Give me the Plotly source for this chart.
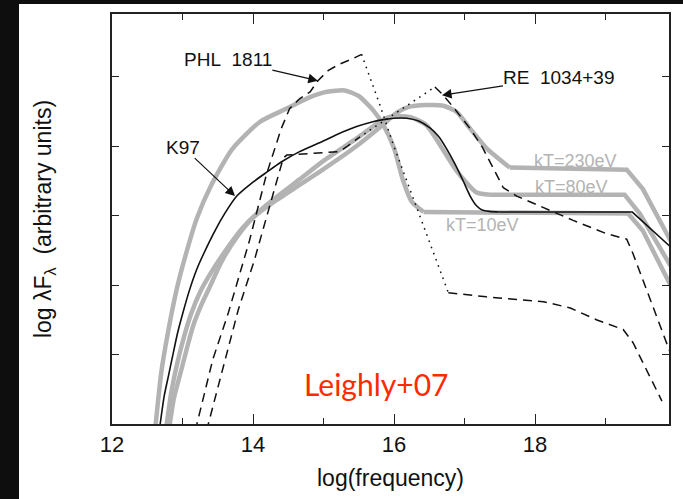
import plotly.graph_objects as go

# ---------------- data (log frequency, log lambda F_lambda, arbitrary units) ----------------
kT10_x = [12.60, 12.70, 12.80, 12.92, 13.05, 13.20, 13.40, 13.70, 14.10, 14.50, 14.80, 15.05, 15.30,
          15.50, 15.70, 15.85, 16.00, 16.13, 16.25, 16.42, 19.32, 19.53, 19.92]
kT10_y = [-0.2, 0.75, 1.35, 1.95, 2.45, 2.95, 3.42, 3.95, 4.35, 4.55, 4.70, 4.78, 4.80,
          4.72, 4.52, 4.30, 3.97, 3.50, 3.20, 3.05, 3.03, 2.78, 2.00]

kT80_x = [12.75, 12.84, 12.92, 13.02, 13.12, 13.25, 13.40, 13.58, 13.86, 14.20, 14.66, 14.99, 15.47,
          15.80, 15.94, 16.22, 16.46, 16.65, 16.89, 17.17, 17.36, 19.27, 19.49, 19.92]
kT80_y = [-0.2, 0.45, 0.85, 1.25, 1.58, 1.90, 2.17, 2.45, 2.83, 3.16, 3.52, 3.78, 4.11,
          4.35, 4.42, 4.42, 4.30, 4.02, 3.64, 3.33, 3.30, 3.30, 3.02, 2.28]

kT230_x = [12.79, 12.88, 12.96, 13.06, 13.15, 13.27, 13.39, 13.55, 13.77, 14.00, 14.30, 14.66, 14.99,
           15.47, 15.80, 16.04, 16.20, 16.46, 16.70, 16.89, 17.08, 17.31, 17.64, 19.30, 19.53, 19.72, 19.92]
kT230_y = [-0.2, 0.38, 0.69, 1.08, 1.41, 1.72, 1.98, 2.33, 2.69, 2.97, 3.20, 3.44, 3.66,
           4.00, 4.27, 4.48, 4.56, 4.59, 4.58, 4.49, 4.25, 3.97, 3.69, 3.66, 3.38, 3.02, 2.64]

k97_x = [12.67, 12.74, 12.80, 12.86, 12.93, 13.00, 13.10, 13.20, 13.30, 13.46, 13.60, 13.77, 14.00,
         14.19, 14.40, 14.66, 14.99, 15.20, 15.47, 15.70, 15.85, 16.00, 16.18, 16.35, 16.51, 16.63,
         16.74, 16.86, 16.98, 17.08, 17.17, 17.25, 17.35, 17.50, 19.38, 19.92]
k97_y = [-0.1, 0.40, 0.69, 0.98, 1.31, 1.58, 1.93, 2.22, 2.45, 2.78, 3.03, 3.28, 3.48,
         3.62, 3.77, 3.92, 4.07, 4.17, 4.28, 4.35, 4.38, 4.40, 4.40, 4.36, 4.26, 4.14,
         3.97, 3.75, 3.50, 3.28, 3.14, 3.08, 3.06, 3.05, 3.05, 2.55]

phl_opt_x = [13.18, 13.43, 13.65, 13.86, 13.95, 14.19, 14.29, 14.40, 14.52, 14.66, 14.81, 14.92,
             15.07, 15.23, 15.40, 15.54]
phl_opt_y = [-0.1, 0.93, 1.60, 2.31, 2.64, 3.59, 3.92, 4.25, 4.54, 4.68, 4.78, 4.94,
             5.09, 5.18, 5.25, 5.32]
phl_euv_x = [15.54, 15.80, 15.99, 16.18, 16.37, 16.65, 16.77]
phl_euv_y = [5.32, 4.59, 4.02, 3.50, 2.97, 2.21, 1.89]
phl_x_x = [16.77, 17.31, 18.12, 18.50, 18.87, 19.25, 19.39, 19.58, 19.77, 19.80]
phl_x_y = [1.89, 1.83, 1.76, 1.67, 1.50, 1.36, 1.17, 0.79, 0.41, 0.33]

re_opt_x = [13.34, 13.59, 13.79, 14.02, 14.24, 14.43, 14.48, 15.23, 15.33, 15.50]
re_opt_y = [-0.1, 0.88, 1.64, 2.36, 3.16, 3.83, 3.87, 3.92, 3.99, 4.12]
re_euv_x = [15.50, 16.58]
re_euv_y = [4.12, 4.85]
re_x_x = [16.58, 16.70, 16.84, 17.08, 17.26, 17.45, 17.55, 17.74, 18.11, 18.54, 19.01, 19.30,
          19.39, 19.58, 19.77, 19.92]
re_x_y = [4.85, 4.73, 4.56, 4.25, 3.97, 3.59, 3.40, 3.28, 3.12, 2.93, 2.74, 2.66,
          2.45, 1.93, 1.41, 1.02]

x_major = [12, 14, 16, 18]
x_minor = [13, 15, 17, 19]
y_ticks = [1, 2, 3, 4, 5]

# ---------------- figure ----------------
W, H = 683, 499
ML, MR, MT, MB = 112, 14, 14, 70
GRAY = "#b3b3b3"
BLACK = "#111111"

fig = go.Figure()


def add_model(xs, ys, flat_start, color, width):
    """Curved part drawn as a smooth spline, the flat X-ray part as straight segments."""
    k = xs.index(flat_start)
    fig.add_trace(go.Scatter(x=xs[:k + 1], y=ys[:k + 1], mode="lines",
                             line=dict(color=color, width=width, shape="spline", smoothing=0.6),
                             hoverinfo="skip"))
    fig.add_trace(go.Scatter(x=xs[k:], y=ys[k:], mode="lines",
                             line=dict(color=color, width=width), hoverinfo="skip"))


add_model(kT10_x, kT10_y, 16.42, GRAY, 4.5)
add_model(kT80_x, kT80_y, 17.36, GRAY, 4.5)
add_model(kT230_x, kT230_y, 17.64, GRAY, 4.5)
add_model(k97_x, k97_y, 17.50, BLACK, 1.6)

DASH = "9px,6px"
DOT = "1.6px,5px"
for xs, ys, d in [(phl_opt_x, phl_opt_y, DASH), (phl_euv_x, phl_euv_y, DOT), (phl_x_x, phl_x_y, DASH),
                  (re_opt_x, re_opt_y, DASH), (re_euv_x, re_euv_y, DOT), (re_x_x, re_x_y, DASH)]:
    fig.add_trace(go.Scatter(x=xs, y=ys, mode="lines",
                             line=dict(color=BLACK, width=1.5, dash=d), hoverinfo="skip"))

# white panel behind the chart (pixel -> paper coordinates)
pw, ph = W - ML - MR, H - MT - MB
def px2paper_x(px):
    return (px - ML) / pw
def px2paper_y(py):
    return (H - MB - py) / ph

fig.add_shape(type="rect", xref="paper", yref="paper", layer="below",
              x0=px2paper_x(19), x1=px2paper_x(690), y0=px2paper_y(505), y1=px2paper_y(4),
              fillcolor="white", line=dict(width=0))

LABEL_FONT = dict(family="Liberation Sans, Arial, sans-serif", size=19, color=BLACK)
KT_FONT = dict(family="Liberation Sans, Arial, sans-serif", size=18, color=GRAY)

annotations = [
    dict(x=18.58, y=3.78, text="kT=230eV", font=KT_FONT),
    dict(x=18.51, y=3.41, text="kT=80eV", font=KT_FONT),
    dict(x=17.25, y=2.86, text="kT=10eV", font=KT_FONT),
    dict(x=15.75, y=0.58, text="Leighly+07",
         font=dict(family="Comic Sans MS, Lato, Liberation Sans, sans-serif", size=30, color="#ff2a00")),
]
for a in annotations:
    a.update(xref="x", yref="y", showarrow=False, xanchor="center", yanchor="middle")

# labelled arrows: (x, y) is the arrow tip, (ax, ay) the label centre offset in pixels
arrows = [
    dict(x=14.92, y=4.94, ax=-90, ay=-21, text="PHL\u00a0\u00a01811"),
    dict(x=13.745, y=3.28, ax=-52, ay=-49, text="K97"),
    dict(x=16.68, y=4.73, ax=117, ay=-18, text="RE\u00a0\u00a01034+39"),
]
for a in arrows:
    a.update(xref="x", yref="y", showarrow=True, arrowhead=2, arrowsize=1.6,
             arrowwidth=1.2, arrowcolor=BLACK, standoff=0, font=LABEL_FONT, borderpad=0)
    annotations.append(a)

axis_common = dict(showline=True, linecolor="#222222", linewidth=1.6, mirror="allticks",
                   ticks="inside", tickcolor="#222222", tickwidth=1.4,
                   showgrid=False, zeroline=False)

fig.update_layout(
    width=W, height=H,
    margin=dict(l=ML, r=MR, t=MT, b=MB, pad=0),
    paper_bgcolor="#0e0e0e",
    plot_bgcolor="white",
    showlegend=False,
    annotations=annotations,
    xaxis=dict(range=[12, 19.9], tickvals=x_major, ticktext=[str(v) for v in x_major], ticklen=10,
               tickfont=dict(family="Liberation Sans, Arial, sans-serif", size=22, color=BLACK),
               minor=dict(tickvals=x_minor, ticklen=6, ticks="inside", tickcolor="#222222", tickwidth=1.4),
               title=dict(text="log(frequency)", standoff=14,
                          font=dict(family="Liberation Sans, Arial, sans-serif", size=23, color=BLACK)),
               **axis_common),
    yaxis=dict(range=[0, 5.9], tickvals=y_ticks, ticklen=7, showticklabels=False,
               title=dict(text="log \u03bbF<sub>\u03bb</sub>  (arbitrary units)", standoff=52,
                          font=dict(family="Liberation Sans, Arial, sans-serif", size=23, color=BLACK)),
               **axis_common),
)

fig.write_html("out.html")
